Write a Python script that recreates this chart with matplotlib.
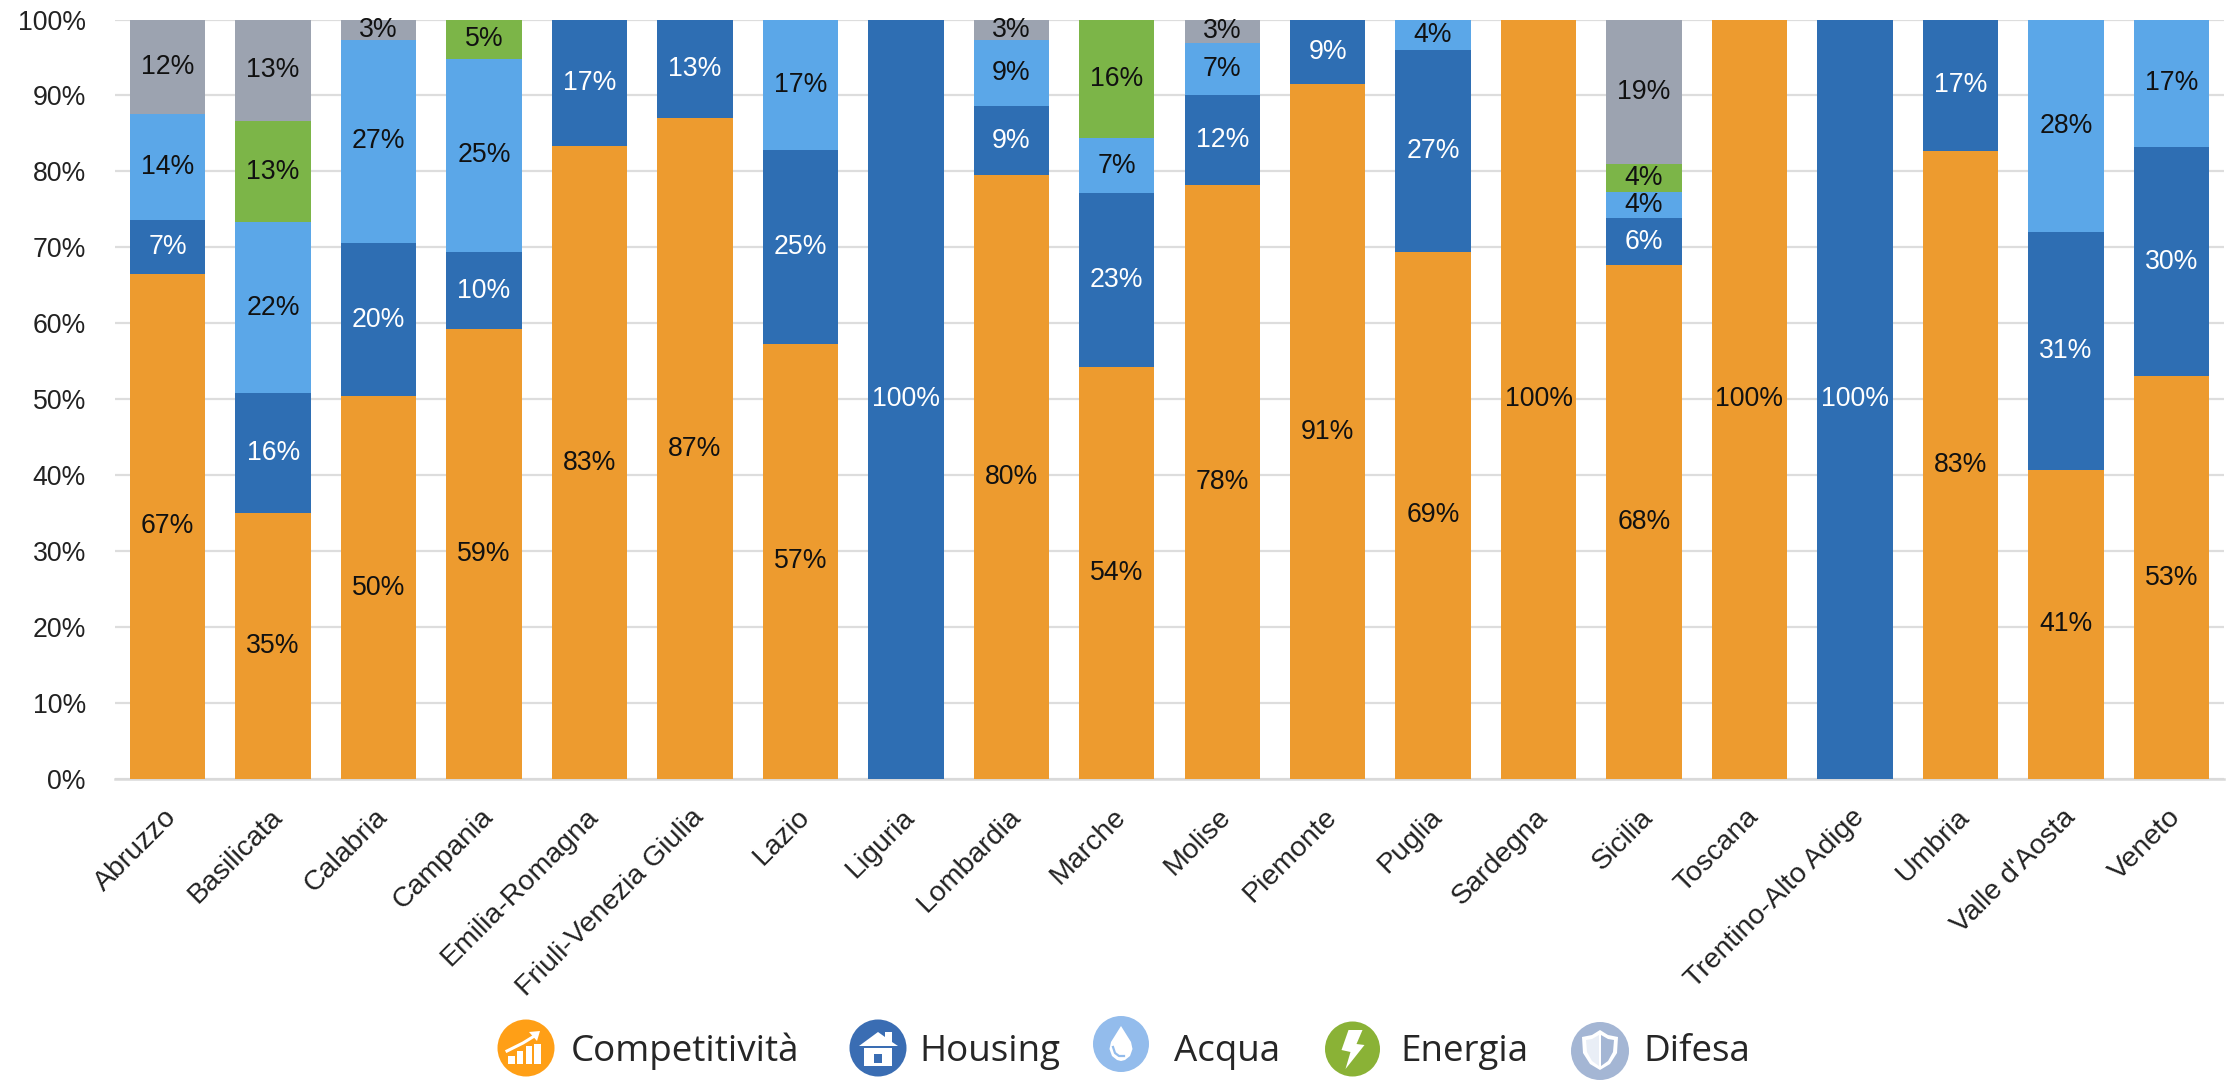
import matplotlib
matplotlib.use("Agg")
import matplotlib.pyplot as plt
import matplotlib.transforms as mtransforms
import numpy as np
from matplotlib.patches import Circle, Polygon, Rectangle

plt.rcParams["font.family"] = ["Liberation Sans", "DejaVu Sans"]

regions = [
    "Abruzzo", "Basilicata", "Calabria", "Campania", "Emilia-Romagna",
    "Friuli-Venezia Giulia", "Lazio", "Liguria", "Lombardia", "Marche",
    "Molise", "Piemonte", "Puglia", "Sardegna", "Sicilia", "Toscana",
    "Trentino-Alto Adige", "Umbria", "Valle d'Aosta", "Veneto",
]
competitivita = [66.51, 35.0, 50.4, 59.2, 83.3, 87.0, 57.3, 0, 79.5, 54.2, 78.2, 91.49, 69.4, 100, 67.7, 100, 0, 82.7, 40.7, 53.0]
housing = [7.1, 15.8, 20.2, 10.2, 16.7, 13.0, 25.49, 100, 9.1, 22.9, 11.8, 8.51, 26.6, 0, 6.1, 0, 100, 17.3, 31.3, 30.2]
acqua = [14.0, 22.49, 26.7, 25.4, 0, 0, 17.21, 0, 8.7, 7.3, 6.9, 0, 4.0, 0, 3.5, 0, 0, 0, 28.0, 16.8]
energia = [0, 13.3, 0, 5.2, 0, 0, 0, 0, 0, 15.6, 0, 0, 0, 0, 3.7, 0, 0, 0, 0, 0]
difesa = [12.39, 13.41, 2.7, 0, 0, 0, 0, 0, 2.7, 0, 3.1, 0, 0, 0, 19.0, 0, 0, 0, 0, 0]

series_names = ["Competitività", "Housing", "Acqua", "Energia", "Difesa"]
series_values = [competitivita, housing, acqua, energia, difesa]
bar_colors = ["#ED9B2F", "#2E6EB3", "#5BA7E8", "#7CB548", "#9CA3B0"]
label_colors = ["#111111", "white", "#111111", "#111111", "#111111"]
y_ticks = [0, 10, 20, 30, 40, 50, 60, 70, 80, 90, 100]

W, H = 2226, 1081
fig = plt.figure(figsize=(W / 100, H / 100), dpi=100)
ax = fig.add_axes([115 / W, 1 - 779 / H, (2224 - 115) / W, (779 - 19.5) / H])

x = np.arange(len(regions))
bottom = np.zeros(len(regions))
for values, color, text_color in zip(series_values, bar_colors, label_colors):
    values = np.array(values, dtype=float)
    ax.bar(x, values, 0.715, bottom=bottom, color=color, zorder=2)
    for xi, v, b in zip(x, values, bottom):
        if v > 0:
            ax.text(xi, b + v / 2, f"{v:.0f}%", ha="center", va="center",
                    fontsize=19.2, color=text_color, zorder=3)
    bottom += values

ax.set_xlim(-0.5, len(regions) - 0.5)
ax.set_ylim(0, 100)
ax.set_yticks(y_ticks)
ax.set_yticklabels([f"{t}%" for t in y_ticks], fontsize=19.2, color="#222222")
ax.set_xticks(x)
ax.set_xticklabels(regions, rotation=45, ha="right", va="top", rotation_mode="anchor",
                   fontsize=20.5, color="#222222")
ax.tick_params(axis="both", length=0)
ax.tick_params(axis="x", pad=18)
ax.tick_params(axis="y", pad=21)
shift = mtransforms.ScaledTranslation(-4 / 100, 0, fig.dpi_scale_trans)
for label in ax.get_xticklabels():
    label.set_transform(label.get_transform() + shift)
ax.grid(axis="y", color="#DDDDDD", linewidth=1.6, zorder=1)
ax.set_axisbelow(True)
for spine in ax.spines.values():
    spine.set_visible(False)
ax.axhline(0, color="#D9D9D9", linewidth=1.8, zorder=1, clip_on=False)

# legenda disegnata a mano, in pixel, con le icone rotonde
leg = fig.add_axes([0, 0, 1, 1])
leg.set_xlim(0, W)
leg.set_ylim(H, 0)
leg.axis("off")
leg.patch.set_alpha(0)

icon_x = [526, 878, 1121, 1352.5, 1600]
icon_y = [1048, 1048, 1044, 1049, 1051]
icon_r = [28.5, 28.5, 28, 27.5, 29]
icon_colors = ["#FF9F16", "#3A6DB3", "#93BCEC", "#8AB236", "#A4B6D4"]
text_x = [571, 919, 1174, 1400, 1643]
for cx, cy, r, color, tx, name in zip(icon_x, icon_y, icon_r, icon_colors, text_x, series_names):
    leg.add_patch(Circle((cx, cy), r, color=color, lw=0))
    leg.text(tx, 1061, name, ha="left", va="baseline", fontsize=26.5, color="#262626",
             family=["Open Sans", "DejaVu Sans"])


def poly(cx, cy, points, color="white"):
    leg.add_patch(Polygon([(cx + px, cy + py) for px, py in points], color=color, lw=0))


def growth(cx, cy):
    for dx, w, top in zip([-18, -9, 0, 8], [7, 6, 6, 7], [8, 3, -2, -4]):
        leg.add_patch(Rectangle((cx + dx, cy + top), w, 16 - top, color="white", lw=0))
    leg.plot([cx - 19, cx - 3, cx + 10], [cy + 3, cy - 5, cy - 13], color="white", lw=2.2)
    poly(cx, cy, [(3, -16), (14, -17), (11, -7)])


def house(cx, cy):
    poly(cx, cy, [(-19, -2), (0, -16), (7, -11), (7, -16), (14, -16), (14, -6), (20, -2)])
    leg.add_patch(Rectangle((cx - 14, cy + 0), 28, 18, color="white", lw=0))
    leg.add_patch(Rectangle((cx - 4, cy + 6), 8, 9, color="#3A6DB3", lw=0))


def drop(cx, cy):
    poly(cx, cy, [(0, -18), (-5, -10), (-10, -2), (-11.5, 5), (-9, 12), (-4, 16), (0, 17),
                  (4, 16), (9, 12), (11.5, 5), (10, -2), (5, -10)])
    leg.plot([cx - 8, cx - 6, cx - 2, cx + 3], [cy + 3, cy + 9, cy + 12, cy + 12],
             color="#93BCEC", lw=1.6)


def bolt(cx, cy):
    poly(cx, cy, [(-4, -19), (10, -19), (4, -5), (12, -4), (-7, 20), (-2, 3), (-11, 1)])


def shield(cx, cy):
    outline = [(0, -21), (8, -16), (18, -14), (17, 2), (10, 13), (0, 19),
               (-10, 13), (-17, 2), (-18, -14), (-8, -16)]
    poly(cx, cy, outline)
    poly(cx, cy, [(1, -16), (8, -12), (14, -11), (13, 1), (8, 10), (1, 15)], "#A4B6D4")
    poly(cx, cy, [(-1, -16), (-8, -12), (-14, -11), (-13, 1), (-8, 10), (-1, 15)], "#E9EEF6")


growth(icon_x[0], icon_y[0])
house(icon_x[1], icon_y[1])
drop(icon_x[2], icon_y[2])
bolt(icon_x[3], icon_y[3])
shield(icon_x[4], icon_y[4])

fig.savefig("out.png", dpi=100)
plt.close(fig)
